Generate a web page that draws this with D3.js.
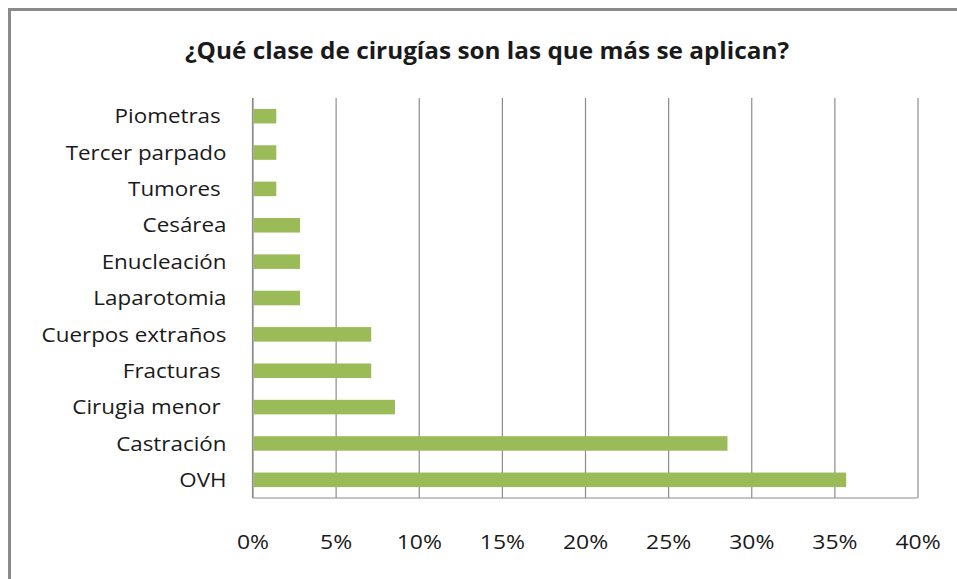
<!DOCTYPE html>
<html>
<head>
<meta charset="utf-8">
<script src="https://cdn.jsdelivr.net/npm/d3@7"></script>
<style>
  body { margin: 0; background: #fff; }
  .chart text { font-family: "Open Sans", Lato, sans-serif; fill: #1a1a1a; }
</style>
</head>
<body>
<div class="chart"></div>
<script>
// categories top to bottom, values in percent
const categories = ['Piometras ', 'Tercer parpado', 'Tumores ', 'Cesárea', 'Enucleación',
  'Laparotomia', 'Cuerpos extraños', 'Fracturas ', 'Cirugia menor ', 'Castración', 'OVH'];
const values = [1.43, 1.43, 1.43, 2.86, 2.86, 2.86, 7.14, 7.14, 8.57, 28.57, 35.71];
const ticks = [0, 5, 10, 15, 20, 25, 30, 35, 40];
const title = '¿Qué clase de cirugías son las que más se aplican?';

const W = 957, H = 579;
const margin = { top: 98, right: 39.5, bottom: 80, left: 252.5 };
const width = W - margin.left - margin.right;
const height = H - margin.top - margin.bottom - 1;
const sx = 1.12; // the source picture is a bit stretched sideways

const svg = d3.select('.chart')
  .append('svg')
  .attr('width', W)
  .attr('height', H);

// outer frame (left and top edges visible)
svg.append('path')
  .attr('d', `M9.5,${H} V9.5 H${W}`)
  .attr('fill', 'none')
  .attr('stroke', '#8a8a8a')
  .attr('stroke-width', 3);

svg.append('text')
  .attr('x', 487)
  .attr('y', 59)
  .attr('text-anchor', 'middle')
  .attr('textLength', 604)
  .attr('lengthAdjust', 'spacingAndGlyphs')
  .style('font-size', '24px')
  .style('font-weight', 'bold')
  .text(title);

const x = d3.scaleLinear().domain([0, 40]).range([0, width]);
const y = d3.scaleBand().domain(categories).range([0, height])
  .paddingInner(0.6).paddingOuter(0.3);

const g = svg.append('g')
  .attr('transform', `translate(${margin.left}, ${margin.top})`);

// vertical gridlines + tick labels
const xAxis = d3.axisBottom(x)
  .tickValues(ticks)
  .tickSize(-height)
  .tickPadding(0)
  .tickFormat(d => d + '%');

const gx = g.append('g')
  .attr('transform', `translate(0, ${height})`)
  .call(xAxis);
gx.select('.domain').remove();
gx.selectAll('line').attr('stroke', '#8c8c8c').attr('stroke-width', 1.2);
gx.selectAll('text')
  .attr('y', 0)
  .attr('dy', 0)
  .attr('transform', `translate(0, 51) scale(${sx}, 1)`)
  .style('font-size', '20.5px');

// axis lines
g.append('line')
  .attr('x1', 0).attr('x2', width)
  .attr('y1', height).attr('y2', height)
  .attr('stroke', '#8c8c8c').attr('stroke-width', 1.2);
g.append('line')
  .attr('x1', 0).attr('x2', 0)
  .attr('y1', 0).attr('y2', height)
  .attr('stroke', '#8c8c8c').attr('stroke-width', 1.2);

g.selectAll('.bar')
  .data(values)
  .enter()
  .append('rect')
  .attr('class', 'bar')
  .attr('x', x(0) + 1)
  .attr('y', (d, i) => y(categories[i]))
  .attr('width', d => x(d) - x(0) - 1)
  .attr('height', y.bandwidth())
  .attr('fill', '#9bbb59');

g.selectAll('.cat')
  .data(categories)
  .enter()
  .append('text')
  .attr('class', 'cat')
  .attr('transform', d => `translate(-26, ${y(d) + y.bandwidth() / 2}) scale(${sx}, 1)`)
  .attr('dy', '0.36em')
  .attr('text-anchor', 'end')
  .style('white-space', 'pre')
  .style('font-size', '20px')
  .text(d => d);
</script>
</body>
</html>
